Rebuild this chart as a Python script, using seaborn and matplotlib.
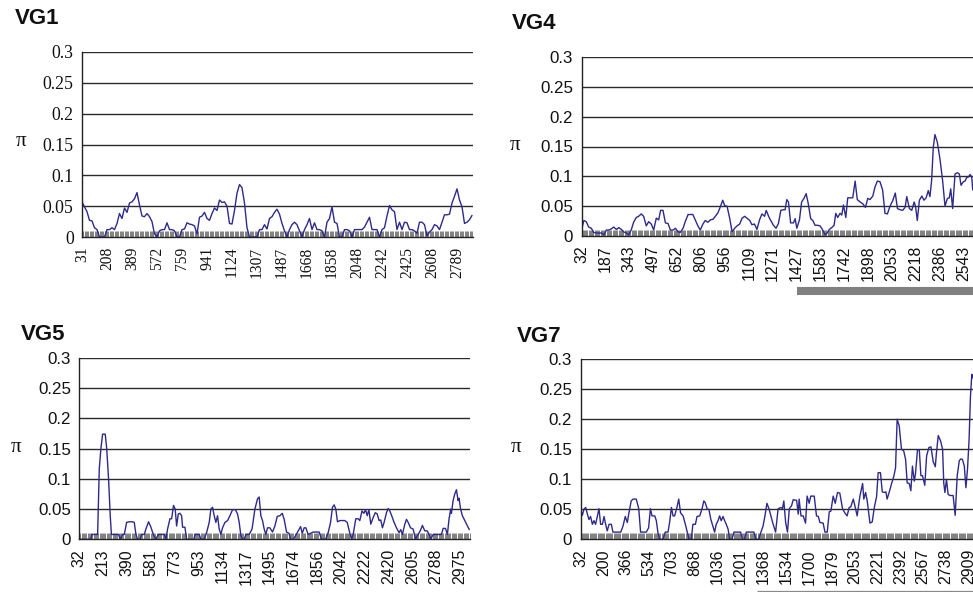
import numpy as np
import matplotlib
matplotlib.use("Agg")
import matplotlib.pyplot as plt
import matplotlib.transforms as mtransforms
from matplotlib.ticker import MultipleLocator, FixedLocator, FixedFormatter
import seaborn as sns

# ---------------- data ----------------
vg1_labels = ["31", "208", "389", "572", "759", "941", "1124", "1307", "1487",
              "1668", "1858", "2048", "2242", "2425", "2608", "2789"]
vg1_pi = [0.057, 0.049, 0.041, 0.027, 0.026, 0.015, 0.012, 0.0, 0.0, 0.0,
          0.012, 0.012, 0.015, 0.012, 0.022, 0.038, 0.030, 0.047, 0.040, 0.055,
          0.057, 0.062, 0.072, 0.052, 0.034, 0.033, 0.038, 0.033, 0.025, 0.005,
          0.0, 0.010, 0.012, 0.012, 0.023, 0.012, 0.012, 0.010, 0.0, 0.0,
          0.012, 0.013, 0.023, 0.021, 0.020, 0.018, 0.005, 0.032, 0.034, 0.040,
          0.030, 0.027, 0.038, 0.047, 0.043, 0.060, 0.056, 0.057, 0.050, 0.022,
          0.021, 0.043, 0.071, 0.085, 0.080, 0.055, 0.015, 0.0, 0.0, 0.0,
          0.0, 0.012, 0.012, 0.020, 0.013, 0.030, 0.033, 0.040, 0.045, 0.037,
          0.022, 0.010, 0.0, 0.012, 0.020, 0.024, 0.020, 0.010, 0.0, 0.012,
          0.020, 0.030, 0.012, 0.023, 0.012, 0.012, 0.010, 0.0, 0.024, 0.030,
          0.049, 0.024, 0.022, 0.0, 0.0, 0.012, 0.012, 0.010, 0.0, 0.012,
          0.012, 0.012, 0.012, 0.016, 0.024, 0.032, 0.012, 0.012, 0.012, 0.0,
          0.012, 0.015, 0.034, 0.051, 0.044, 0.041, 0.012, 0.024, 0.012, 0.024,
          0.023, 0.012, 0.012, 0.010, 0.006, 0.024, 0.024, 0.020, 0.002, 0.008,
          0.012, 0.020, 0.018, 0.012, 0.024, 0.036, 0.036, 0.037, 0.055, 0.066,
          0.078, 0.060, 0.049, 0.022, 0.024, 0.028, 0.035]
vg1_idx = list(range(len(vg1_pi)))

vg4_labels = ["32", "187", "343", "497", "652", "806", "956", "1109", "1271",
              "1427", "1583", "1742", "1898", "2053", "2218", "2386", "2543"]
vg4_idx = [0, 1.0, 2.0, 3.0, 4.1, 5.1, 6.2, 8.3, 9.4, 10.4,
           11.4, 12.5, 13.5, 14.6, 15.6, 16.7, 17.6, 18.8, 19.7, 20.8,
           21.8, 22.9, 23.9, 25.0, 26.0, 27.1, 28.1, 29.2, 30.2, 31.3,
           32.3, 33.1, 34.1, 35.1, 36.2, 37.2, 38.3, 39.3, 40.4, 41.3,
           42.5, 43.4, 44.6, 46.6, 47.6, 48.7, 49.7, 50.8, 51.8, 52.9,
           53.9, 55.0, 56.0, 57.1, 58.1, 59.1, 59.9, 60.9, 62.0, 63.0,
           64.1, 65.1, 66.2, 67.2, 68.3, 69.2, 70.4, 71.3, 72.4, 73.4,
           74.5, 75.5, 76.6, 77.3, 78.3,
           78.9, 80.3, 81.4, 82.4, 83.4, 84.5, 85.2, 85.9, 86.6, 87.5,
           88.7, 89.4, 90.1, 91.2, 92.1, 93.1, 94.0, 94.9, 95.9, 96.8,
           97.7, 98.7, 99.8, 100.8, 101.9, 102.6, 103.7, 104.7, 105.7, 106.4,
           107.2, 108.2, 108.9, 109.6, 110.6, 111.4, 112.4, 113.5, 114.5, 115.4,
           116.6, 117.7, 118.8, 119.8, 120.7, 121.9, 122.8, 123.8, 124.9, 126.0,
           127.0, 128.0, 129.1, 130.2, 131.3, 132.2, 133.3, 134.4, 135.4, 136.1,
           137.2, 138.2, 139.2, 139.8, 140.5, 141.4, 142.4, 143.3, 144.2, 145.1,
           145.8, 146.5, 147.2, 147.9, 148.9, 150.0, 151.1, 152.1, 153.1, 153.9,
           154.5, 155.3, 156.3, 157.3, 158.1, 158.8, 159.8, 160.5, 161.2, 161.9,
           162.6, 163.3, 163.7]
vg4_pi = [0.010, 0.026, 0.024, 0.015, 0.013, 0.006, 0.005, 0.005, 0.002, 0.010,
          0.010, 0.012, 0.015, 0.011, 0.014, 0.011, 0.007, 0.005, 0.002, 0.010,
          0.023, 0.031, 0.033, 0.037, 0.033, 0.017, 0.024, 0.020, 0.010, 0.030,
          0.027, 0.043, 0.043, 0.022, 0.021, 0.010, 0.010, 0.013, 0.007, 0.006,
          0.013, 0.024, 0.036, 0.036, 0.027, 0.017, 0.010, 0.020, 0.026, 0.023,
          0.027, 0.028, 0.033, 0.039, 0.049, 0.060, 0.051, 0.050, 0.030, 0.007,
          0.013, 0.017, 0.020, 0.030, 0.033, 0.030, 0.026, 0.019, 0.020, 0.011,
          0.027, 0.037, 0.033, 0.043, 0.033,
          0.028, 0.018, 0.013, 0.021, 0.043, 0.044, 0.044, 0.061, 0.057, 0.022,
          0.022, 0.029, 0.013, 0.027, 0.057, 0.063, 0.071, 0.054, 0.029, 0.026,
          0.018, 0.018, 0.017, 0.011, 0.002, 0.004, 0.011, 0.014, 0.018, 0.038,
          0.031, 0.038, 0.035, 0.052, 0.031, 0.064, 0.064, 0.064, 0.092, 0.061,
          0.057, 0.054, 0.048, 0.063, 0.061, 0.067, 0.082, 0.092, 0.091, 0.077,
          0.038, 0.037, 0.050, 0.059, 0.072, 0.046, 0.044, 0.043, 0.048, 0.066,
          0.046, 0.043, 0.057, 0.049, 0.026, 0.060, 0.067, 0.060, 0.064, 0.076,
          0.066, 0.093, 0.149, 0.170, 0.157, 0.129, 0.093, 0.050, 0.063, 0.064,
          0.079, 0.046, 0.104, 0.106, 0.104, 0.085, 0.091, 0.092, 0.098, 0.099,
          0.103, 0.099, 0.077]

vg5_labels = ["32", "213", "390", "581", "773", "953", "1134", "1317", "1495",
              "1674", "1856", "2042", "2222", "2420", "2605", "2788", "2975"]
vg5_idx = [0, 4.9, 5.3, 7.7, 8.4, 9.1, 9.8, 10.9, 11.5, 12.3,
           13.0, 13.5, 16.5, 17.2, 18.2, 18.9, 19.9, 21.0, 22.4, 23.1,
           23.8, 24.5, 25.5, 26.2, 27.3, 28.0, 29.1, 30.1, 31.1, 32.2,
           33.2, 35.7, 36.4, 37.1, 38.1, 38.8, 39.6, 40.3, 40.9, 41.6,
           42.3, 43.0, 43.4, 44.4, 45.1, 48.2, 48.6, 50.4, 51.1, 52.5,
           53.5, 54.6, 55.3, 56.0, 56.7, 57.4, 58.1, 58.8, 59.5, 60.2,
           61.2, 62.3, 63.3, 64.4, 65.6, 66.5, 67.2, 67.9, 68.6, 69.3,
           70.0, 71.4, 72.6, 73.1, 73.8, 74.9, 75.6, 76.3, 77.0, 77.7,
           78.4, 79.1,
           80.1, 81.2, 82.2, 83.2, 84.3, 85.3, 86.1, 87.1, 88.1, 88.8,
           89.9, 90.6, 92.0, 93.0, 93.7, 94.5, 95.2, 96.2, 97.2, 98.3,
           100.8, 101.8, 103.5, 104.6, 105.6, 106.4, 107.1, 107.8, 108.5, 109.5,
           111.6, 112.6, 113.7, 114.4, 115.1, 116.2, 117.2, 117.9, 118.8, 119.6,
           120.3, 121.0, 121.7, 122.5, 123.5, 124.4, 125.2, 126.0, 126.7, 127.4,
           128.1, 129.1, 129.8, 130.5, 131.2, 132.2, 133.3, 134.4, 135.1, 135.8,
           136.8, 137.5, 138.2, 139.2, 140.3, 141.3, 142.4, 143.4, 144.2, 145.2,
           146.2, 147.0, 147.7, 148.7, 152.2, 152.9, 153.9, 154.7, 155.4, 156.1,
           156.4, 157.1, 157.8, 158.5, 159.2, 159.6, 160.2, 161.0, 162.0, 163.0,
           163.9]
vg5_pi = [0.0, 0.0, 0.008, 0.008, 0.117, 0.151, 0.174, 0.174, 0.151, 0.100,
          0.039, 0.008, 0.008, 0.0, 0.008, 0.008, 0.028, 0.029, 0.029, 0.028,
          0.008, 0.0, 0.0, 0.008, 0.008, 0.017, 0.029, 0.020, 0.008, 0.0,
          0.008, 0.008, 0.0, 0.017, 0.034, 0.034, 0.056, 0.050, 0.022, 0.042,
          0.043, 0.039, 0.020, 0.020, 0.0, 0.0, 0.008, 0.008, 0.0, 0.0,
          0.011, 0.028, 0.050, 0.053, 0.039, 0.028, 0.039, 0.017, 0.008, 0.019,
          0.028, 0.031, 0.039, 0.049, 0.049, 0.042, 0.028, 0.006, 0.0, 0.0,
          0.008, 0.008, 0.017, 0.031, 0.050, 0.067, 0.070, 0.039, 0.031, 0.017,
          0.008, 0.019,
          0.019, 0.012, 0.022, 0.038, 0.039, 0.043, 0.033, 0.012, 0.010, 0.0,
          0.0, 0.004, 0.014, 0.021, 0.010, 0.019, 0.019, 0.008, 0.010, 0.012,
          0.012, 0.0, 0.0, 0.011, 0.028, 0.053, 0.057, 0.050, 0.029, 0.031,
          0.031, 0.028, 0.010, 0.0, 0.008, 0.034, 0.034, 0.031, 0.047, 0.043,
          0.049, 0.039, 0.049, 0.025, 0.036, 0.044, 0.042, 0.031, 0.032, 0.019,
          0.028, 0.044, 0.051, 0.047, 0.040, 0.029, 0.019, 0.011, 0.016, 0.008,
          0.025, 0.033, 0.028, 0.019, 0.017, 0.0, 0.008, 0.015, 0.023, 0.014,
          0.014, 0.008, 0.0, 0.008, 0.008, 0.018, 0.018, 0.008, 0.034, 0.050,
          0.043, 0.064, 0.075, 0.082, 0.064, 0.068, 0.051, 0.039, 0.031, 0.023,
          0.016]

vg7_labels = ["32", "200", "366", "534", "703", "868", "1036", "1201", "1368",
              "1534", "1700", "1879", "2053", "2221", "2392", "2567", "2738", "2909"]
vg7_idx = [0, 0.8, 1.5, 2.3, 3.0, 3.7, 4.4, 5.2, 5.9, 6.6,
           7.4, 8.1, 8.8, 9.6, 10.3, 11.0, 11.7, 12.5, 13.5, 14.2,
           17.6, 18.6, 19.6, 20.5, 21.1, 22.2, 23.0, 24.4, 25.5, 26.3,
           28.8, 29.8, 30.6, 31.3, 32.5, 33.2, 33.9, 34.6, 36.1, 37.1,
           38.3, 39.0, 39.8, 40.5, 41.2, 42.2, 43.0, 43.8, 44.9, 45.9,
           46.8, 47.5, 48.5, 49.2, 50.3, 51.0, 52.2, 53.2, 54.0, 54.6,
           55.5, 56.2, 57.0, 57.7, 58.7, 59.4, 60.2, 60.9, 61.6, 62.4,
           63.1, 63.8, 64.6, 65.3, 66.3, 67.2, 70.1, 70.8, 71.8, 72.6,
           75.9, 76.7, 78.0, 78.9, 79.9, 80.6, 81.6, 82.5,
           84.1, 85.4, 86.5, 87.7, 88.4, 89.0, 89.8, 90.6, 91.4, 92.4,
           93.1, 94.6, 95.3, 95.7, 96.5, 97.5, 98.5, 99.2, 100.1, 100.8,
           102.3, 103.3, 104.1, 104.8, 106.2, 107.0, 108.0, 108.9, 109.6, 110.6,
           111.5, 112.5, 113.5, 114.7, 115.7, 116.7, 117.6, 118.3, 119.4, 120.1,
           121.1, 122.3, 123.5, 124.0, 124.8, 125.5, 126.7, 127.7, 128.6, 129.6,
           130.3, 131.3, 132.1, 132.9, 133.7, 134.2, 135.1, 136.1, 137.2, 137.9,
           138.6, 139.5, 140.5, 141.5, 142.3, 143.0, 143.9, 144.6, 145.3, 146.1,
           146.6, 147.5, 148.3, 149.0, 149.7, 150.7, 151.5, 152.5, 153.4, 154.4,
           155.3, 155.8, 156.6, 157.6, 158.5, 159.0, 159.5, 160.2, 160.9, 161.7,
           163.1, 164.0, 164.9, 165.8, 166.5, 167.2, 168.0, 168.7, 169.4, 170.1,
           170.7, 171.3, 171.7]
vg7_pi = [0.051, 0.040, 0.050, 0.053, 0.042, 0.033, 0.038, 0.025, 0.031, 0.025,
          0.039, 0.051, 0.025, 0.025, 0.038, 0.025, 0.014, 0.025, 0.025, 0.012,
          0.012, 0.022, 0.038, 0.028, 0.042, 0.064, 0.067, 0.067, 0.051, 0.012,
          0.012, 0.019, 0.051, 0.039, 0.039, 0.031, 0.011, 0.0, 0.0, 0.012,
          0.012, 0.028, 0.053, 0.039, 0.039, 0.053, 0.067, 0.044, 0.039, 0.025,
          0.011, 0.0, 0.0, 0.025, 0.025, 0.038, 0.039, 0.051, 0.064, 0.061,
          0.050, 0.050, 0.034, 0.025, 0.012, 0.025, 0.031, 0.039, 0.031, 0.038,
          0.031, 0.025, 0.017, 0.0, 0.0, 0.012, 0.012, 0.0, 0.0, 0.012,
          0.012, 0.0, 0.0, 0.011, 0.022, 0.036, 0.060, 0.051,
          0.028, 0.012, 0.051, 0.053, 0.051, 0.064, 0.028, 0.012, 0.051, 0.056,
          0.066, 0.065, 0.042, 0.067, 0.039, 0.039, 0.027, 0.072, 0.060, 0.072,
          0.072, 0.039, 0.038, 0.028, 0.027, 0.012, 0.012, 0.046, 0.047, 0.072,
          0.060, 0.078, 0.077, 0.051, 0.044, 0.039, 0.053, 0.054, 0.067, 0.056,
          0.039, 0.072, 0.093, 0.067, 0.078, 0.064, 0.027, 0.029, 0.053, 0.071,
          0.111, 0.111, 0.079, 0.078, 0.079, 0.067, 0.078, 0.092, 0.106, 0.119,
          0.200, 0.189, 0.150, 0.147, 0.133, 0.094, 0.093, 0.081, 0.122, 0.097,
          0.108, 0.149, 0.149, 0.106, 0.106, 0.090, 0.139, 0.153, 0.154, 0.129,
          0.121, 0.144, 0.173, 0.164, 0.150, 0.094, 0.078, 0.100, 0.075, 0.073,
          0.073, 0.040, 0.106, 0.131, 0.134, 0.133, 0.122, 0.086, 0.117, 0.167,
          0.239, 0.275, 0.269]

y_ticks = [0, 0.05, 0.1, 0.15, 0.2, 0.25, 0.3]
y_ticklabels = ["0", "0.05", "0.1", "0.15", "0.2", "0.25", "0.3"]

# ---------------- figure ----------------
sns.set_theme(style="white")
W, H = 973, 592
fig = plt.figure(figsize=(W / 100, H / 100), dpi=100)
fig.patch.set_facecolor("white")

LINE_COLOR = "#2e2a8c"
GRID_COLOR = "#2a2a2a"


def px_axes(left, top, right, bottom):
    return [left / W, 1 - bottom / H, (right - left) / W, (bottom - top) / H]


def make_panel(rect, idx, vals, labels, xmax, serif):
    ax = fig.add_axes(rect)
    ax.set_facecolor("white")
    sns.lineplot(x=idx, y=vals, ax=ax, color=LINE_COLOR, linewidth=1.0,
                 estimator=None, sort=False)
    ax.set_xlim(0, xmax)
    ax.set_ylim(0, 0.3)
    for y in y_ticks[1:]:
        ax.axhline(y, color=GRID_COLOR, linewidth=1.0, zorder=0.5)
    for s in ["top", "right"]:
        ax.spines[s].set_visible(False)
    for s in ["left", "bottom"]:
        ax.spines[s].set_visible(True)
        ax.spines[s].set_color("#222222")
        ax.spines[s].set_linewidth(1.0)
    ax.set_yticks(y_ticks)
    fam_y = "Liberation Serif" if serif else "Liberation Sans"
    ax.set_yticklabels(y_ticklabels, fontfamily=fam_y,
                       fontsize=12.8 if serif else 12.2, color="#111111")
    major = [10 * k for k in range(len(labels))]
    ax.xaxis.set_major_locator(FixedLocator(major))
    ax.xaxis.set_major_formatter(FixedFormatter(labels))
    ax.xaxis.set_minor_locator(MultipleLocator(0.5))
    for lab in ax.get_xticklabels():
        lab.set_rotation(90)
        lab.set_fontfamily(fam_y)
        lab.set_fontsize(11.2 if serif else 11.4)
        lab.set_color("#111111")
    ax.tick_params(axis="x", which="both", direction="in", length=4,
                   width=0.45, color="#3a3a3a", bottom=True, pad=7)
    ax.tick_params(axis="y", which="both", length=0, pad=6, left=False)
    ax.set_xlabel("")
    ax.set_ylabel("")
    ax.grid(False)
    return ax


ax1 = make_panel(px_axes(82, 52, 473, 237), vg1_idx, vg1_pi, vg1_labels, 156.4, True)
ax4 = make_panel(px_axes(581.5, 57, 1010, 236), vg4_idx, vg4_pi, vg4_labels, 179.3, False)
ax5 = make_panel(px_axes(79.3, 358, 470, 539.3), vg5_idx, vg5_pi, vg5_labels, 164.2, False)
ax7 = make_panel(px_axes(580.5, 359.3, 1010, 539.3), vg7_idx, vg7_pi, vg7_labels, 188.0, False)

# region markers below VG4 and VG7
tr4 = mtransforms.blended_transform_factory(ax4.transData, ax4.transAxes)
ax4.plot([90.2, 200], [-0.307, -0.307], transform=tr4, clip_on=False,
         color="#808080", linewidth=5.8, solid_capstyle="butt")
tr7 = mtransforms.blended_transform_factory(ax7.transData, ax7.transAxes)
ax7.plot([77.1, 200], [-0.289, -0.289], transform=tr7, clip_on=False,
         color="#8a8a8a", linewidth=0.9, solid_capstyle="butt")

# panel titles
for txt, x, y in [("VG1", 15, 18.5), ("VG4", 511.5, 23.5),
                  ("VG5", 20.5, 334), ("VG7", 516.5, 336)]:
    fig.text(x / W, 1 - y / H, txt, ha="left", va="center", fontsize=16,
             fontweight="bold", fontfamily="Liberation Sans", color="#111111")

# pi axis labels
for x, y in [(21, 142), (515, 145.5), (16.3, 447.5), (516.3, 448)]:
    fig.text(x / W, 1 - y / H, "π", ha="center", va="center", fontsize=15,
             fontfamily="Liberation Serif", color="#111111")

fig.savefig("out.png", dpi=100, facecolor="white")
